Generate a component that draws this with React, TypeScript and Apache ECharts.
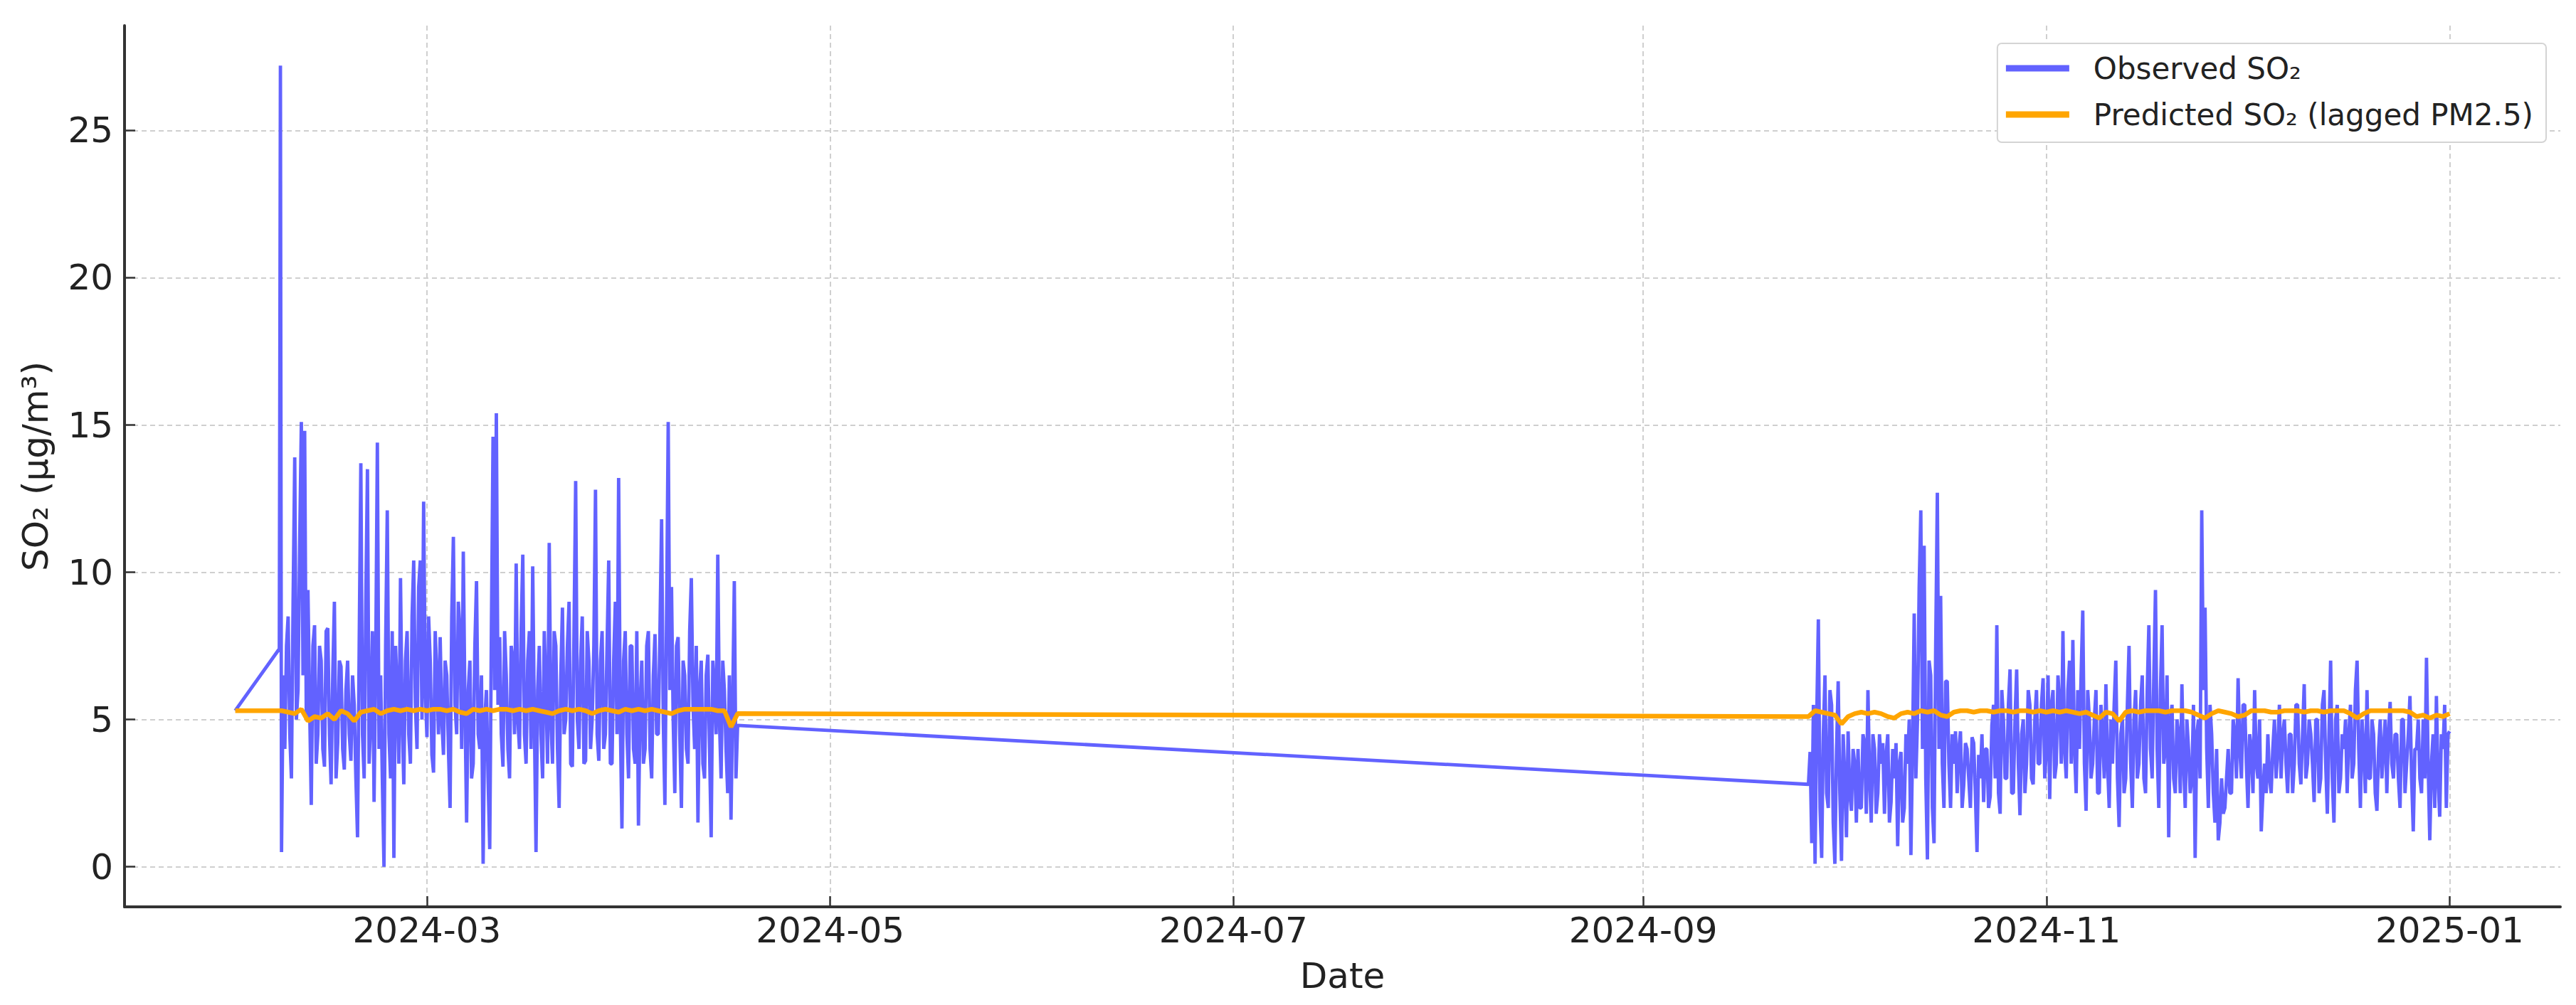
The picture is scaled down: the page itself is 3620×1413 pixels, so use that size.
import React, { useEffect, useRef } from 'react';
import * as echarts from 'echarts';

// ---- data ----
const xTickLabels = ['2024-03', '2024-05', '2024-07', '2024-09', '2024-11', '2025-01'];
const yTickValues = [0, 5, 10, 15, 20, 25];

const seriesNames = ['Observed SO₂', 'Predicted SO₂ (lagged PM2.5)'];

// Observed: a few irregular leading readings, then two 6-hourly blocks
const obsLeadTimes = ['2024-02-01T00:00', '2024-02-07T16:00', '2024-02-07T20:00'];
const obsLeadValues = [5.3, 7.4, 27.2];

const obsSeg1Start = '2024-02-08T00:00';
const obsSeg1Values = [
  0.5, 6.5, 4.0, 7.5,
  8.5, 4.5, 3.0, 9.0,
  13.9, 5.0, 6.0, 11.0,
  15.1, 6.5, 14.8, 5.0,
  9.4, 5.5, 2.1, 7.5,
  8.2, 3.5, 4.5, 7.5,
  7.0, 4.0, 3.4, 8.0,
  8.1, 4.5, 2.8, 6.5,
  9.0, 3.0, 4.2, 7.0,
  6.8, 4.0, 3.3, 6.0,
  7.0, 4.5, 3.6, 6.5,
  5.5, 3.0, 1.0, 7.5,
  13.7, 4.5, 3.0, 9.0,
  13.5, 3.5, 5.0, 8.0,
  2.2, 7.0, 14.4, 4.0,
  6.5, 3.0, 0.0, 7.5,
  12.1, 4.5, 3.0, 8.0,
  0.3, 7.5, 6.0, 3.5,
  9.8, 5.0, 2.8, 7.0,
  8.0, 4.5, 3.5, 8.5,
  10.4, 5.5, 4.0, 9.5,
  10.4, 5.0, 12.4, 6.0,
  4.4, 8.5, 7.0, 3.8,
  3.2, 8.0, 6.5, 4.5,
  7.8, 5.0, 3.8, 7.0,
  6.5, 4.0, 2.0, 8.5,
  11.2, 5.5, 4.5, 9.0,
  8.0, 4.0, 10.7, 5.5,
  1.5, 6.0, 7.0, 3.0,
  3.5, 7.5, 9.7, 4.5,
  4.0, 6.5, 0.1, 5.0,
  6.0, 3.0, 0.6, 8.0,
  14.6, 6.0, 15.4, 5.5,
  7.8, 4.5, 3.4, 8.0,
  6.5, 4.0, 3.0, 7.5,
  7.0, 4.5, 10.3, 5.0,
  4.0, 8.0, 10.6, 4.5,
  3.5, 7.0, 8.0, 4.0,
  10.2, 5.0, 0.5, 6.0,
  7.5, 4.5, 3.0, 8.0,
  6.0, 3.5, 11.0, 5.0,
  3.5, 8.0, 7.5, 4.0,
  2.0, 6.5, 8.8, 4.5,
  5.0, 7.5, 9.0, 3.5,
  3.4, 8.0, 13.1, 5.0,
  4.0, 7.0, 8.5, 3.5,
  3.6, 8.0, 7.0, 4.0,
  5.0, 7.5, 12.8, 4.5,
  3.6, 7.0, 8.0, 4.0,
  4.5, 7.5, 10.4, 3.5,
  3.5, 7.0, 9.0, 4.5,
  13.2, 5.0, 1.3, 7.0,
  8.0, 4.5, 3.0, 7.5,
  7.5, 4.0, 3.5, 8.0,
  1.4, 5.5, 7.0, 3.5,
  4.0, 7.5, 8.0, 4.0,
  3.0, 6.5, 7.9, 4.5,
  4.5, 8.0, 11.8, 5.0,
  2.1, 8.5, 15.1, 6.0,
  9.5, 5.0, 2.5, 7.5,
  7.8, 4.5, 2.0, 7.0,
  6.5, 4.0, 3.5, 8.0,
  9.8, 5.5, 4.0, 7.5,
  1.5, 6.0, 7.0, 3.5,
  3.0, 6.5, 7.2, 4.0,
  1.0, 7.0, 6.0, 4.5,
  10.6, 5.0, 3.0, 7.0,
  6.0, 4.0, 2.5, 6.5,
  1.6, 5.5, 9.7, 3.0,
  4.8,
];

const obsSeg2Start = '2024-09-26T00:00';
const obsSeg2Values = [
  2.8, 3.9, 0.8, 5.5,
  0.1, 5.0, 8.4, 2.0,
  0.3, 4.5, 6.5, 2.5,
  2.0, 6.0, 5.5, 1.5,
  0.1, 4.0, 6.3, 2.5,
  0.2, 4.5, 3.0, 1.0,
  4.6, 2.5, 1.9, 4.0,
  3.5, 1.5, 4.0, 2.0,
  2.0, 4.5, 4.2, 1.8,
  6.0, 3.0, 1.5, 4.5,
  4.0, 1.8, 2.5, 4.5,
  3.5, 4.2, 1.8, 3.8,
  4.5, 1.5, 2.2, 4.0,
  3.0, 4.2, 0.7, 3.5,
  3.9, 1.5, 2.0, 4.5,
  3.5, 5.0, 0.4, 4.0,
  8.6, 3.0, 5.0, 9.5,
  12.1, 4.0, 10.9, 3.0,
  0.25, 7.0, 6.5, 2.0,
  0.8, 7.5, 12.7, 4.0,
  9.2, 3.5, 2.0, 6.3,
  6.3, 3.5, 2.0, 4.5,
  3.5, 4.6, 2.5, 4.0,
  4.6, 2.0, 2.8, 4.2,
  4.0, 3.0, 2.0, 4.4,
  4.2, 2.5, 0.5, 3.8,
  3.0, 4.5, 2.2, 4.0,
  4.0, 2.0, 2.4, 4.8,
  5.5, 3.0, 8.2, 2.5,
  1.8, 6.0, 5.0, 3.0,
  3.0, 5.5, 6.7, 2.5,
  2.5, 5.0, 6.7, 3.5,
  1.75, 4.5, 5.0, 2.5,
  3.5, 6.0, 5.5, 3.0,
  2.8, 5.0, 6.0, 3.5,
  3.5, 5.5, 6.4, 3.0,
  4.0, 6.5, 2.3, 5.5,
  6.0, 3.0, 3.5, 6.5,
  5.5, 3.5, 8.0, 4.0,
  3.0, 6.0, 7.0, 3.5,
  7.7, 4.0, 2.5, 6.0,
  4.0, 6.5, 8.7, 3.5,
  1.9, 6.0, 5.0, 3.0,
  3.5, 5.0, 6.0, 2.5,
  2.5, 5.5, 4.5, 3.0,
  6.2, 3.5, 2.0, 5.0,
  3.5, 5.5, 7.0, 3.0,
  1.35, 4.5, 5.0, 2.5,
  3.0, 5.5, 7.5, 3.5,
  2.0, 5.0, 6.0, 3.0,
  3.5, 5.5, 6.5, 3.0,
  2.5, 6.0, 8.2, 4.0,
  3.0, 6.5, 9.4, 4.0,
  2.0, 6.0, 8.2, 3.5,
  4.0, 6.5, 1.0, 5.0,
  5.5, 3.0, 2.5, 5.0,
  4.5, 2.5, 6.2, 3.5,
  2.0, 5.0, 4.0, 2.5,
  3.0, 5.5, 0.3, 4.5,
  5.0, 3.0, 12.1, 6.0,
  8.8, 4.0, 2.0, 5.5,
  4.5, 2.5, 1.5, 4.0,
  0.9, 1.5, 3.0, 1.8,
  2.0, 3.0, 4.0, 2.5,
  2.5, 5.0, 4.5, 3.0,
  6.4, 4.0, 3.0, 5.5,
  5.5, 3.5, 2.0, 4.5,
  4.0, 2.5, 6.0, 3.5,
  3.0, 5.0, 1.2, 2.5,
  3.5, 2.5, 4.5, 3.0,
  2.5, 4.0, 5.0, 3.0,
  4.0, 5.5, 3.0, 4.5,
  5.0, 3.5, 2.5, 4.5,
  4.5, 2.5, 3.5, 5.5,
  5.5, 3.5, 2.8, 4.5,
  6.2, 3.0, 3.5, 5.0,
  4.5, 3.5, 2.2, 5.0,
  5.0, 2.5, 3.0, 5.5,
  6.0, 3.5, 1.8, 4.5,
  7.0, 3.0, 1.5, 5.0,
  5.5, 2.5, 3.0, 4.5,
  4.0, 5.0, 2.5, 4.5,
  5.5, 3.0, 3.5, 6.0,
  7.0, 4.0, 2.0, 5.0,
  4.0, 2.5, 6.0, 3.0,
  3.0, 5.0, 4.5, 2.5,
  1.9, 4.0, 5.0, 3.0,
  4.0, 5.0, 2.5, 4.5,
  5.6, 3.5, 3.0, 4.5,
  4.5, 3.0, 2.0, 5.0,
  5.0, 2.5, 3.5, 4.5,
  5.8, 3.0, 1.2, 4.0,
  4.0, 5.0, 3.0, 2.5,
  5.0, 3.0, 7.1, 3.5,
  0.9, 3.5, 4.5, 2.0,
  5.8, 3.0, 1.7, 4.5,
  4.0, 5.5, 2.0, 4.5,
  4.6,
];

// Predicted: daily values
const predLeadTimes = ['2024-02-01T00:00'];
const predLeadValues = [5.3];

const predSeg1Start = '2024-02-08T00:00';
const predSeg1Values = [
  5.30, 5.25, 5.20, 5.35, 4.95, 5.10, 5.05, 5.20, 5.00, 5.30,
  5.20, 4.95, 5.25, 5.30, 5.35, 5.20, 5.30, 5.35, 5.30, 5.35,
  5.30, 5.35, 5.30, 5.35, 5.35, 5.30, 5.35, 5.25, 5.20, 5.35,
  5.30, 5.35, 5.30, 5.35, 5.35, 5.30, 5.35, 5.30, 5.35, 5.30,
  5.25, 5.20, 5.30, 5.35, 5.30, 5.35, 5.30, 5.20, 5.30, 5.35,
  5.30, 5.25, 5.35, 5.30, 5.35, 5.30, 5.35, 5.30, 5.25, 5.20,
  5.30, 5.35, 5.35, 5.35, 5.35, 5.35, 5.30, 5.30, 4.75, 5.20,
];

const predSeg2Start = '2024-09-26T00:00';
const predSeg2Values = [
  5.10, 5.30, 5.25, 5.20, 5.15, 4.85, 5.10, 5.20, 5.25, 5.20,
  5.25, 5.20, 5.10, 5.05, 5.20, 5.25, 5.20, 5.30, 5.25, 5.30,
  5.15, 5.10, 5.25, 5.30, 5.30, 5.25, 5.30, 5.30, 5.25, 5.30,
  5.30, 5.25, 5.30, 5.30, 5.25, 5.30, 5.25, 5.30, 5.25, 5.30,
  5.25, 5.20, 5.25, 5.15, 5.05, 5.25, 5.20, 4.95, 5.25, 5.30,
  5.25, 5.30, 5.30, 5.30, 5.25, 5.30, 5.30, 5.30, 5.25, 5.15,
  5.05, 5.20, 5.30, 5.25, 5.20, 5.10, 5.15, 5.30, 5.30, 5.30,
  5.25, 5.25, 5.30, 5.30, 5.30, 5.25, 5.30, 5.30, 5.25, 5.30,
  5.30, 5.30, 5.20, 5.05, 5.20, 5.30, 5.30, 5.30, 5.30, 5.30,
  5.30, 5.25, 5.10, 5.15, 5.05, 5.15, 5.10, 5.20,
];

// ---- helpers ----
const HOUR = 3600 * 1000;
const ts = (s: string) => Date.parse(s + ':00Z');
const block = (start: string, stepHours: number, vals: number[]) =>
  vals.map((v, i) => [ts(start) + i * stepHours * HOUR, v]);
const lead = (times: string[], vals: number[]) => times.map((s, i) => [ts(s), vals[i]]);

const FONT = "'DejaVu Sans', 'Noto Sans', sans-serif";

export default function App() {
  const ref = useRef<HTMLDivElement>(null);

  useEffect(() => {
    if (!ref.current) return;
    const chart = echarts.init(ref.current, undefined, { renderer: 'svg' });

    const observed = [
      ...lead(obsLeadTimes, obsLeadValues),
      ...block(obsSeg1Start, 6, obsSeg1Values),
      ...block(obsSeg2Start, 6, obsSeg2Values),
    ];
    const predicted = [
      ...lead(predLeadTimes, predLeadValues),
      ...block(predSeg1Start, 24, predSeg1Values),
      ...block(predSeg2Start, 24, predSeg2Values),
    ];

    const xTicks = xTickLabels.map((s) => Date.parse(s + '-01T00:00:00Z'));
    const fmt = (v: number) => {
      const d = new Date(v);
      return d.getUTCFullYear() + '-' + String(d.getUTCMonth() + 1).padStart(2, '0');
    };

    const gridLine = { show: true, lineStyle: { color: '#cfcfcf', width: 2, type: [7, 5] as any } };
    const axisLineStyle = { show: true, onZero: false, lineStyle: { color: '#333', width: 4 } };

    chart.setOption({
      animation: false,
      backgroundColor: '#ffffff',
      grid: { left: 175, right: 22, top: 36, bottom: 138, containLabel: false },
      legend: {
        orient: 'vertical',
        right: 42,
        top: 61,
        itemWidth: 89,
        itemHeight: 9,
        itemGap: 23,
        padding: [14, 18, 18, 12],
        backgroundColor: '#ffffff',
        borderColor: '#d4d4d4',
        borderWidth: 2,
        borderRadius: 6,
        textStyle: { fontSize: 42, fontFamily: FONT, color: '#222', padding: [0, 0, 0, 29] },
        data: [
          { name: seriesNames[0], icon: 'rect' },
          { name: seriesNames[1], icon: 'rect' },
        ],
      },
      xAxis: {
        type: 'value',
        min: ts('2024-01-15T06:00'),
        max: ts('2025-01-17T18:00'),
        name: 'Date',
        nameLocation: 'middle',
        nameGap: 72,
        nameTextStyle: { fontSize: 50, fontFamily: FONT, color: '#222' },
        axisLine: axisLineStyle,
        axisTick: { show: true, inside: true, length: 15, customValues: xTicks, lineStyle: { color: '#333', width: 2.5 } },
        axisLabel: { customValues: xTicks, formatter: fmt, fontSize: 50, fontFamily: FONT, color: '#222', margin: 8 },
        splitLine: gridLine,
      },
      yAxis: {
        type: 'value',
        min: -1.36,
        max: 28.56,
        name: 'SO₂ (µg/m³)',
        nameLocation: 'middle',
        nameGap: 100,
        nameTextStyle: { fontSize: 50, fontFamily: FONT, color: '#222' },
        axisLine: axisLineStyle,
        axisTick: { show: true, inside: true, length: 15, customValues: yTickValues, lineStyle: { color: '#333', width: 2.5 } },
        axisLabel: { customValues: yTickValues, fontSize: 50, fontFamily: FONT, color: '#222', margin: 16 },
        splitLine: gridLine,
      },
      series: [
        {
          name: seriesNames[0],
          type: 'line',
          data: observed,
          symbol: 'none',
          showSymbol: false,
          color: '#6262ff',
          lineStyle: { color: '#6262ff', width: 4.8 },
          z: 2,
        },
        {
          name: seriesNames[1],
          type: 'line',
          data: predicted,
          symbol: 'none',
          showSymbol: false,
          color: '#ffa500',
          lineStyle: { color: '#ffa500', width: 6.5 },
          z: 3,
        },
      ],
    });

    return () => chart.dispose();
  }, []);

  return (
    <div
      ref={ref}
      style={{ position: 'fixed', left: 0, top: 0, width: 3620, height: 1413, background: '#fff' }}
    />
  );
}
